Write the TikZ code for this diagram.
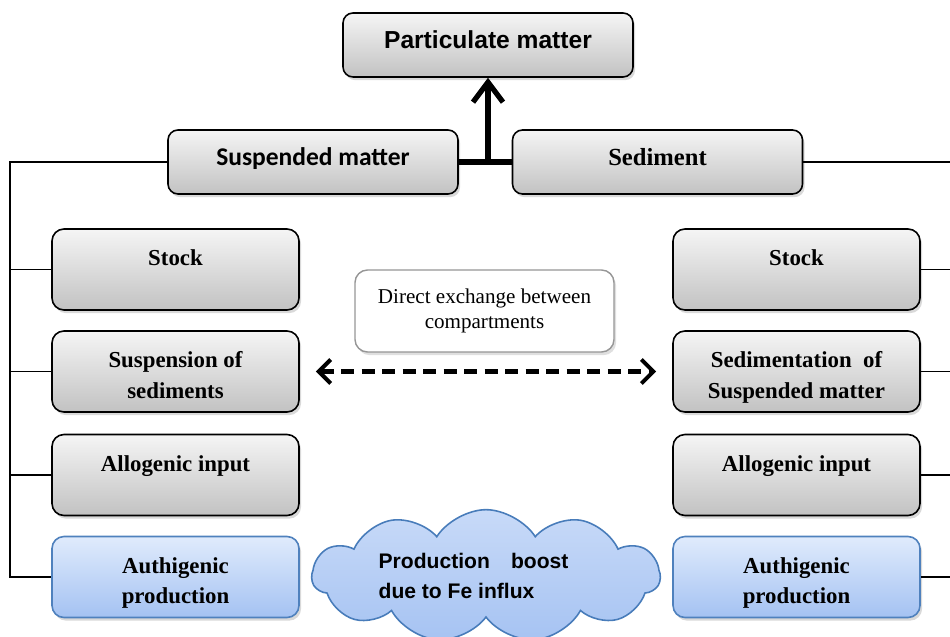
\documentclass[tikz,border=0pt]{standalone}
\usepackage{fontspec}
\setmainfont{Liberation Serif}
\newfontfamily\arialfont{Liberation Sans}
\newfontfamily\calibrifont{Carlito}
\usetikzlibrary{arrows.meta,calc,shapes.symbols,shadows}
\definecolor{boxtop}{RGB}{245,245,245}
\definecolor{boxbot}{RGB}{194,194,194}
\definecolor{bluetop}{RGB}{224,235,252}
\definecolor{bluebot}{RGB}{164,194,242}
\definecolor{blueline}{RGB}{79,129,189}
\definecolor{cloudtop}{RGB}{200,218,248}
\definecolor{cloudbot}{RGB}{166,195,242}
\definecolor{cloudline}{RGB}{72,124,186}
\definecolor{exline}{RGB}{150,150,150}

\begin{document}
\begin{tikzpicture}[>=Stealth,
    greybox/.style={draw,line width=0.9pt,rounded corners=0.24cm,
      top color=boxtop,bottom color=boxbot,
      drop shadow={shadow xshift=1.2pt,shadow yshift=-1.8pt,opacity=0.3},
      minimum width=4.94cm,minimum height=1.62cm,align=center,inner ysep=1pt,
      execute at begin node=\rule{0pt}{36pt},execute at end node=\strut,
      font=\fontsize{13}{17.6}\selectfont\bfseries},
    bluebox/.style={greybox,draw=blueline,top color=bluetop,bottom color=bluebot},
    headbox/.style={draw,line width=0.9pt,rounded corners=0.2cm,
      top color=boxtop,bottom color=boxbot,
      drop shadow={shadow xshift=1.2pt,shadow yshift=-1.8pt,opacity=0.3},
      minimum width=5.8cm,minimum height=1.28cm,text height=0.36cm,text depth=0.2cm,
      font=\fontsize{14}{17}\selectfont\bfseries},
    notebox/.style={draw=exline,line width=0.8pt,rounded corners=0.25cm,fill=white,
      drop shadow={shadow xshift=1.2pt,shadow yshift=-1.8pt,opacity=0.25},
      minimum width=5.18cm,minimum height=1.64cm,align=center,
      font=\fontsize{12}{14.7}\selectfont},
    boostcloud/.style={cloud,cloud puffs=11,cloud puff arc=115,aspect=3.4,
      draw=cloudline,line width=0.9pt,top color=cloudtop,bottom color=cloudbot,
      minimum width=6.96cm,minimum height=1.9cm,inner sep=0pt,align=left,
      font=\arialfont\fontsize{12}{16.6}\selectfont\bfseries},
    link/.style={line width=1.1pt},
    bar/.style={line width=3pt},
    uparrow/.style={line width=3pt,-{Straight Barb[length=4mm,width=6mm]}},
    swap/.style={line width=2.3pt,dash pattern=on 0.26cm off 0.15cm,
      {Straight Barb[length=2.4mm,width=4.8mm]}-{Straight Barb[length=2.4mm,width=4.8mm]}}]
  \useasboundingbox (0,0) rectangle (19,-12.74);
  % top of the tree
  \node[headbox,font=\arialfont\fontsize{14}{17}\selectfont\bfseries] (part) at (9.76,-0.90) {Particulate matter};
  \node[headbox,font=\calibrifont\fontsize{14.5}{17}\selectfont\bfseries] (susp) at (6.26,-3.24) {Suspended matter};
  \node[headbox] (sed) at (13.15,-3.24) {Sediment};
  % suspended matter side
  \node[greybox] (lstock) at (3.51,-5.39) {Stock\\};
  \node[greybox] (lsusp) at (3.51,-7.43) {Suspension of\\sediments};
  \node[greybox] (lallo) at (3.51,-9.50) {Allogenic input\\};
  \node[bluebox] (lauth) at (3.51,-11.54) {Authigenic\\production};
  % sediment side
  \node[greybox] (rstock) at (15.93,-5.39) {Stock\\};
  \node[greybox] (rsed) at (15.93,-7.43) {Sedimentation\ \ of\\Suspended matter};
  \node[greybox] (rallo) at (15.93,-9.50) {Allogenic input\\};
  \node[bluebox] (rauth) at (15.93,-11.54) {Authigenic\\production};
  % middle notes
  \node[notebox] (exch) at (9.69,-6.22) {Direct exchange between\\compartments};
  \node[boostcloud] (boost) at (9.72,-11.52) {Production\hspace{12pt}boost\rule{0.5cm}{0pt}\\due to Fe influx};
  % connectors
  \coordinate (lbus) at (0.2,-3.24);
  \coordinate (rbus) at (19,-3.24);
  \draw[link] (susp.west) -- (lbus) |- (lauth.west);
  \foreach \b in {lstock,lsusp,lallo}
    \draw[link] (\b.west) -- (\b.west -| lbus);
  \draw[link] (sed.east) -- (rbus);
  \foreach \b in {rstock,rsed,rallo,rauth}
    \draw[link] (\b.east) -- (\b.east -| rbus);
  \draw[bar] (susp.east) -- (sed.west);
  \coordinate (mid) at ($(susp.east)!0.5!(sed.west)$);
  \draw[uparrow] (part.south |- mid) -- (part.south);
  \draw[swap,shorten <=0.32cm,shorten >=0.32cm] (lsusp.east) -- (rsed.west);
\end{tikzpicture}
\end{document}
